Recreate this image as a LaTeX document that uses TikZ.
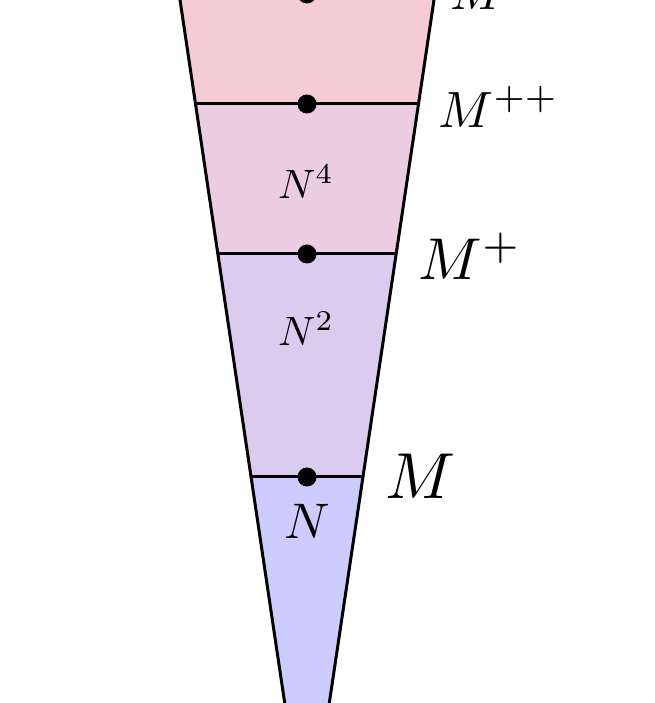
\documentclass[tikz,border=0pt]{standalone}
\usepackage{xcolor}
\usetikzlibrary{positioning}
\definecolor{bandone}{HTML}{CCCCFF}
\definecolor{bandtwo}{HTML}{DBCCEF}
\definecolor{bandfour}{HTML}{ECCCE2}
\definecolor{bandtop}{HTML}{F5CCD6}

\begin{document}
\begin{tikzpicture}[x=0.2pt, y=-0.2pt, line width=0.6pt,
    level/.style={circle, fill=black, inner sep=0pt, minimum size=3.8pt},
    mlabel/.style={anchor=west, inner sep=0pt},
    nlabel/.style={inner sep=0pt}]
  \useasboundingbox (0,0) rectangle (654,703);
  \clip (0,0) rectangle (654,703);

  % cone edges, one pair of points per level
  \coordinate (ltop) at (171.1,-60);   \coordinate (rtop) at (442.9,-60);
  \coordinate (lthree) at (179.1,-6);  \coordinate (rthree) at (434.9,-6);
  \coordinate (ltwo) at (195.5,104);   \coordinate (rtwo) at (418.5,104);
  \coordinate (lone) at (217.8,254);   \coordinate (rone) at (396.2,254);
  \coordinate (lzero) at (251.1,477);  \coordinate (rzero) at (362.9,477);
  \coordinate (lend) at (293.2,760);   \coordinate (rend) at (320.8,760);

  \fill[bandtop] (ltop) -- (rtop) -- (rtwo) -- (ltwo) -- cycle;
  \fill[bandfour] (ltwo) -- (rtwo) -- (rone) -- (lone) -- cycle;
  \fill[bandtwo] (lone) -- (rone) -- (rzero) -- (lzero) -- cycle;
  \fill[bandone] (lzero) -- (rzero) -- (rend) -- (lend) -- cycle;

  \draw (ltop) -- (lend);
  \draw (rtop) -- (rend);
  \draw (lthree) -- (rthree);
  \draw (ltwo) -- (rtwo);
  \draw (lone) -- (rone);
  \draw (lzero) -- (rzero);

  \node[level] (dthree) at (307,-6) {};
  \node[level] (dtwo) at (307,104) {};
  \node[level] (done) at (307,254) {};
  \node[level] (dzero) at (307,477) {};

  \node[nlabel, scale=0.82] (nfour) at (306,182) {$N^4$};
  \node[nlabel, scale=0.82] (ntwo) at (306,329) {$N^2$};
  \node[nlabel] (nzero) at (307,521) {$N$};

  \node[mlabel, scale=1.0] (mthree) at (449,-10) {$M^{+++}$};
  \node[mlabel, scale=1.02] (mtwo) at (437,107) {$M^{++}$};
  \node[mlabel, scale=1.18] (mone) at (417,256) {$M^{+}$};
  \node[mlabel, scale=1.3] (mzero) at (384,476) {$M$};
\end{tikzpicture}
\end{document}
